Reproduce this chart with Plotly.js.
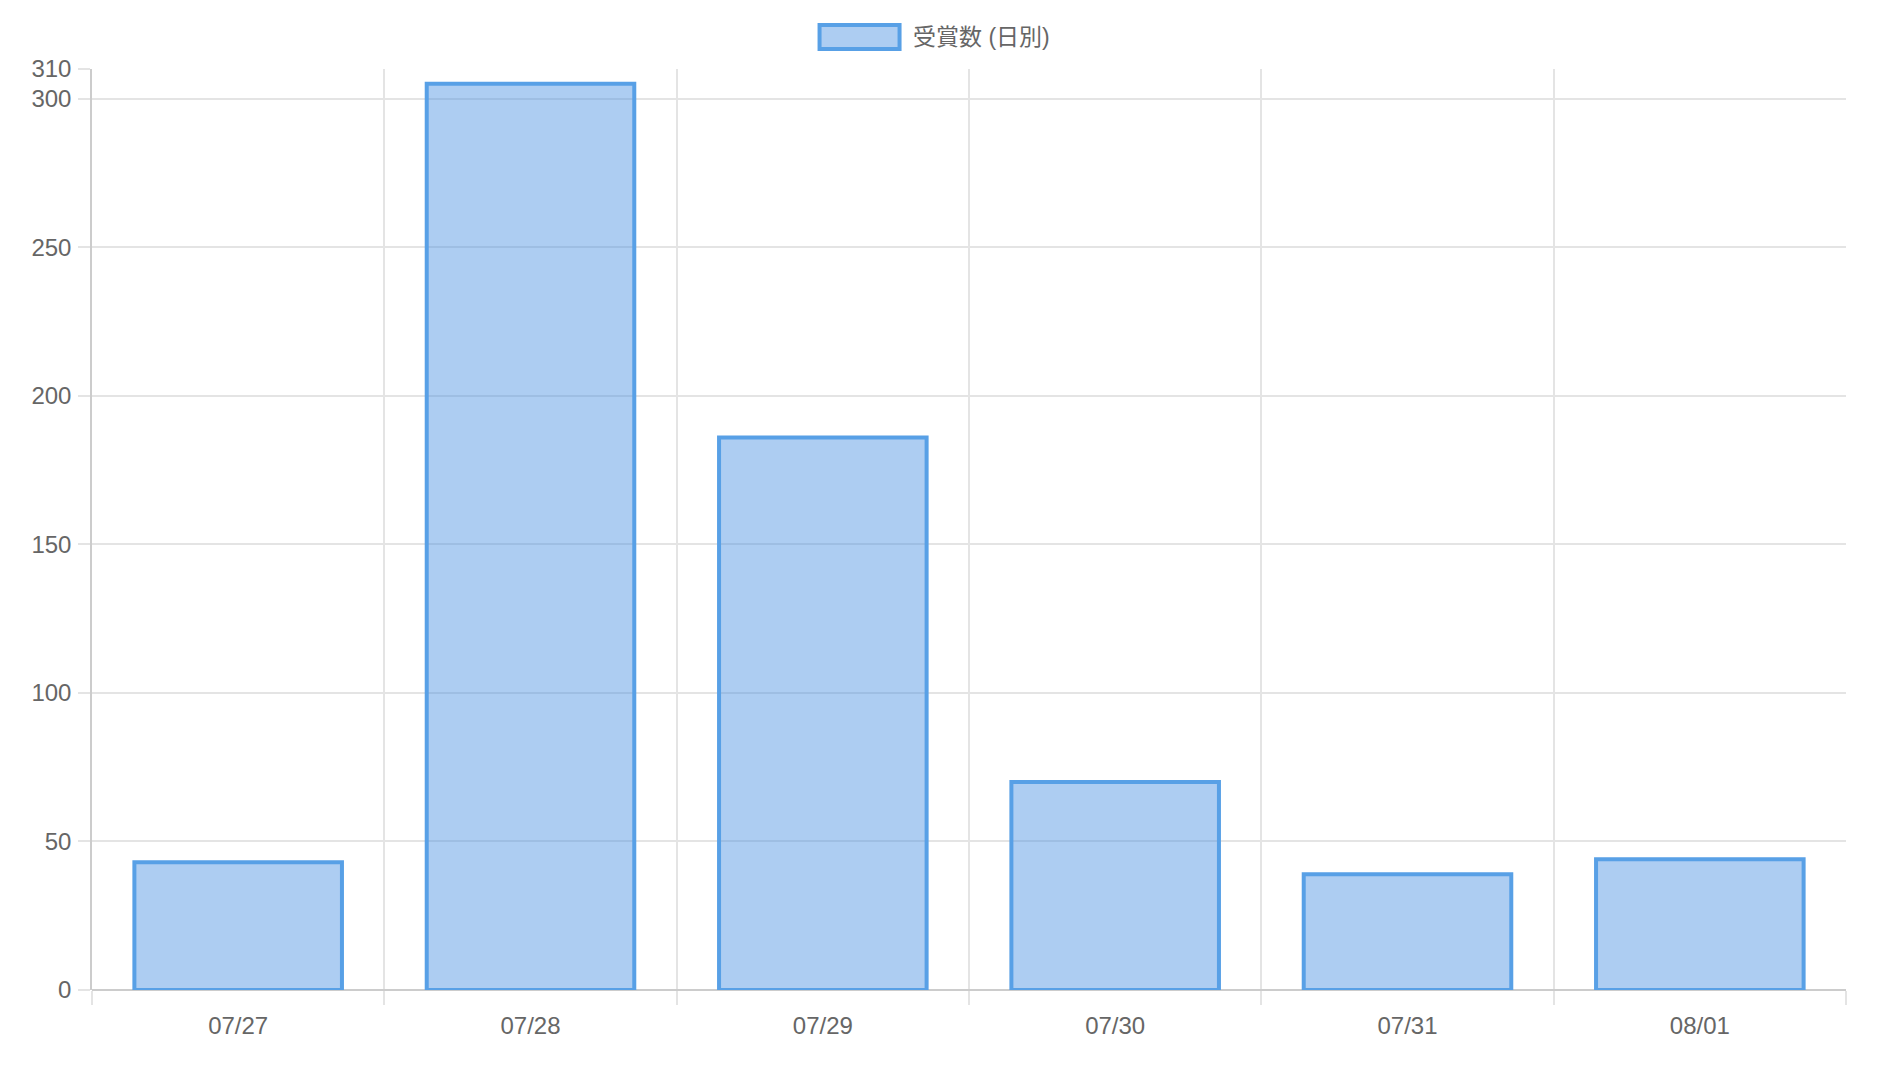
<!DOCTYPE html>
<html>
<head>
<meta charset="utf-8">
<script src="https://cdn.plot.ly/plotly-3.0.1.min.js"></script>
<style>
  html, body { margin: 0; padding: 0; background: #fff; }
  #myDiv { width: 1890px; height: 1066px; }
</style>
</head>
<body>
<div id="myDiv"></div>
<script>
var dates = ['07/27', '07/28', '07/29', '07/30', '07/31', '08/01'];
var awards = [43, 305, 186, 70, 39, 44];
var yTicks = [0, 50, 100, 150, 200, 250, 300, 310];
var seriesName = '受賞数 (日別)';

var fillColor = 'rgba(74,144,226,0.45)';
var lineColor = 'rgb(88,160,230)';
var fontFamily = '"Liberation Sans", Arial, "Noto Sans CJK JP", sans-serif';

var trace1 = {
  x: dates,
  y: awards,
  type: 'bar',
  name: seriesName,
  marker: {
    color: fillColor,
    line: {color: lineColor, width: 4},
  },
  hoverinfo: 'x+y',
  showlegend: false
};

var layout = {
  width: 1890,
  height: 1066,
  margin: {l: 92, r: 44, t: 69, b: 76},
  paper_bgcolor: '#fff',
  plot_bgcolor: '#fff',
  font: {family: fontFamily, size: 24, color: '#666'},
  bargap: 0.29,
  xaxis: {
    type: 'category',
    tickson: 'boundaries',
    ticks: 'outside',
    ticklen: 14,
    tickcolor: '#e4e4e4',
    tickwidth: 1.5,
    showgrid: true,
    gridcolor: '#e4e4e4',
    gridwidth: 1.5,
    showline: false,
    zeroline: false,
    tickfont: {size: 24, color: '#666'},
    ticklabelstandoff: 19
  },
  yaxis: {
    range: [0, 310],
    tickvals: yTicks,
    ticktext: yTicks.map(String),
    ticks: 'outside',
    ticklen: 12,
    tickcolor: '#e4e4e4',
    tickwidth: 1.5,
    showgrid: true,
    gridcolor: '#e4e4e4',
    gridwidth: 1.5,
    showline: true,
    linecolor: '#cccccc',
    linewidth: 1.5,
    zeroline: true,
    zerolinecolor: '#cccccc',
    zerolinewidth: 2,
    tickfont: {size: 24, color: '#666'},
    ticklabelstandoff: 2
  },
  shapes: [{
    type: 'rect',
    xref: 'paper', yref: 'paper',
    xsizemode: 'pixel', ysizemode: 'pixel',
    xanchor: 0.4376, yanchor: 1,
    x0: -40, x1: 40, y0: 20, y1: 44,
    fillcolor: fillColor,
    line: {color: lineColor, width: 4}
  }],
  annotations: [{
    xref: 'paper', yref: 'paper',
    x: 0.4376, y: 1,
    xshift: 51, yshift: 32,
    xanchor: 'left', yanchor: 'middle',
    text: seriesName,
    showarrow: false,
    font: {family: fontFamily, size: 23, color: '#666'}
  }]
};

Plotly.newPlot('myDiv', [trace1], layout, {displayModeBar: false});
</script>
</body>
</html>
